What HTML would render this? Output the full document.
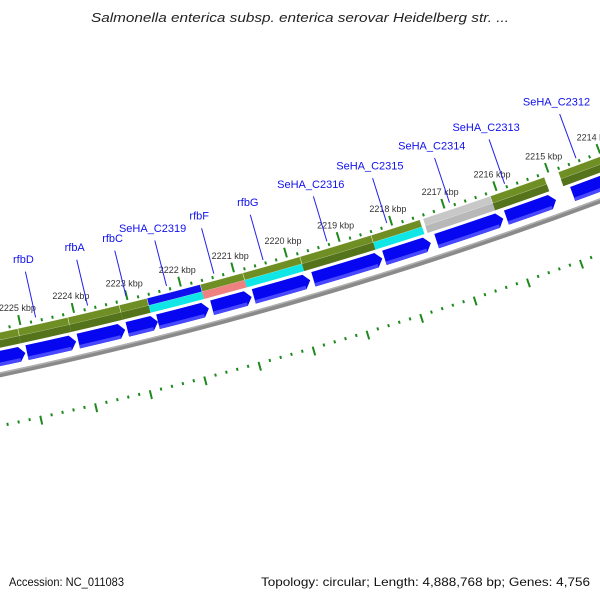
<!DOCTYPE html>
<html><head><meta charset="utf-8"><style>
html,body{margin:0;padding:0;background:#fff;width:600px;height:600px;overflow:hidden}
svg{display:block}
text{font-family:"Liberation Sans","DejaVu Sans",sans-serif}
</style></head><body>
<svg id="map" width="600" height="600" viewBox="0 0 600 600" xmlns="http://www.w3.org/2000/svg">
<rect width="600" height="600" fill="#fff"/>
<text x="300" y="22" text-anchor="middle" font-size="13" font-style="italic" fill="#222" textLength="418" lengthAdjust="spacingAndGlyphs">Salmonella enterica subsp. enterica serovar Heidelberg str. ...</text>
<g id="layer"></g>
<text x="9" y="586" font-size="12" fill="#111" textLength="115" lengthAdjust="spacingAndGlyphs">Accession: NC_011083</text>
<text x="590" y="586" text-anchor="end" font-size="12" fill="#111" textLength="329" lengthAdjust="spacingAndGlyphs">Topology: circular; Length: 4,888,768 bp; Genes: 4,756</text>
</svg>
<script>
// data (kbp)
const bandLo     = [2225.06, 2224.13, 2223.17, 2222.65, 2221.65, 2220.85, 2219.77, 2218.42, 2217.49, 2216.14, 2215.10, 2213.00];
const bandHi     = [2226.50, 2225.06, 2224.13, 2223.17, 2222.65, 2221.65, 2220.85, 2219.77, 2218.42, 2217.43, 2216.14, 2214.83];
const bandTop    = ['green','green','green','green','blue','green','green','green','green','gray','green','green'];
const bandBottom = ['green','green','green','green','cyan','salmon','cyan','green','cyan','gray','green','green'];
const geneStarts = [2225.02, 2224.08, 2223.17, 2222.56, 2221.61, 2220.81, 2219.71, 2218.35, 2217.43, 2216.05, 2215.04, 2213.00];
const geneEnds   = [2226.50, 2224.99, 2224.04, 2223.13, 2222.56, 2221.55, 2220.77, 2219.65, 2218.31, 2217.32, 2215.99, 2214.72];
const geneNames  = ['rfbD','rfbA','rfbC','SeHA_C2319','rfbF','rfbG','SeHA_C2316','SeHA_C2315','SeHA_C2314','SeHA_C2313','SeHA_C2312'];
const geneLabelPos = [2224.70, 2223.73, 2223.01, 2222.25, 2221.36, 2220.43, 2219.22, 2218.08, 2216.88, 2215.82, 2214.44];
const kbpTicks = [2226, 2225, 2224, 2223, 2222, 2221, 2220, 2219, 2218, 2217, 2216, 2215, 2214, 2213];
const kbpLabels = ['2226 kbp','2225 kbp','2224 kbp','2223 kbp','2222 kbp','2221 kbp','2220 kbp','2219 kbp','2218 kbp','2217 kbp','2216 kbp','2215 kbp','2214 kbp','2213 kbp'];

const CX=-877, CY=-3774;
const NS='http://www.w3.org/2000/svg';
const layer=document.getElementById('layer');
function ang(k){return (76.9+(k-2224)*0.751)*Math.PI/180;}
function pt(k,r){const a=ang(k);return [CX+r*Math.cos(a),CY+r*Math.sin(a)];}
function f(p){return p[0].toFixed(2)+' '+p[1].toFixed(2);}
function arcPath(k1,k2,r1,r2){
  const a=Math.min(k1,k2),b=Math.max(k1,k2);
  return 'M'+f(pt(a,r1))+' A'+r1+' '+r1+' 0 0 1 '+f(pt(b,r1))+' L'+f(pt(b,r2))+' A'+r2+' '+r2+' 0 0 0 '+f(pt(a,r2))+' Z';
}
function mk(tag,attrs){const e=document.createElementNS(NS,tag);for(const k in attrs)e.setAttribute(k,attrs[k]);layer.appendChild(e);return e;}
const topCol={green:'#6f8f24',blue:'#1010ee',gray:'#c8c8c8'};
const botCol={green:'#55731a',cyan:'#10e6e6',salmon:'#ee8080',gray:'#b8b8b8'};

// backbone
let e=mk('path',{d:arcPath(2212,2228,4238,4243),fill:'#8a8a8a'});


e=mk('path',{d:arcPath(2212,2228,4238,4239.5),fill:'#b0b0b0'});



// feature band
for(let i=0;i<bandLo.length;i++){
  const lo=bandLo[i], hi=bandHi[i];
  let p=mk('path',{d:arcPath(lo,hi,4199,4206.5),fill:topCol[bandTop[i]],stroke:'#ffffff','stroke-width':'0.4'});
  
  
  p=mk('path',{d:arcPath(lo,hi,4206.5,4214),fill:botCol[bandBottom[i]]});
  
  
}
// genes (arrows pointing to lower kbp)
const hk=0.108;
for(let i=0;i<geneStarts.length;i++){
  const lo=geneStarts[i], hi=geneEnds[i];
  const r1=4217,r2=4232,rm=4224.5;
  const d='M'+f(pt(lo,rm))+' L'+f(pt(lo+hk,r1))+' A'+r1+' '+r1+' 0 0 1 '+f(pt(hi,r1))+' L'+f(pt(hi,r2))+' A'+r2+' '+r2+' 0 0 0 '+f(pt(lo+hk,r2))+' Z';
  let g=mk('path',{d:d,fill:'#0606f0'});
  
  
  g=mk('path',{d:arcPath(lo+hk,hi,4228.5,4232),fill:'#4848ff'});
  
  
}
// tick rings
function ring(rBase,dir,name){
  for(let k=2212;k<=2228.001;k+=0.2){
    const kk=Math.round(k*10)/10;
    const major=Math.abs(kk-Math.round(kk))<0.01;
    const a=pt(kk,major?(dir>0?rBase-9:rBase-1):rBase-1), b=pt(kk,major?(dir>0?rBase+1:rBase+8):rBase+2);
    const t=mk('line',{x1:a[0],y1:a[1],x2:b[0],y2:b[1],stroke:'#1e8a1e','stroke-width':2});
    
    
  }
}
ring(4195,1,'outer-ruler');
ring(4290,-1,'inner-ruler');
// kbp labels
for(let i=0;i<kbpTicks.length;i++){
  const p=pt(kbpTicks[i],4182);
  const t=mk('text',{x:p[0].toFixed(1),y:p[1].toFixed(1),'text-anchor':'middle','font-size':'9',fill:'#333'});
  t.textContent=kbpLabels[i];
  
  
}
// gene labels
for(let i=0;i<geneNames.length;i++){
  const a=pt(geneLabelPos[i],4145), b=pt(geneLabelPos[i],4192);
  const l=mk('line',{x1:a[0],y1:a[1],x2:b[0],y2:b[1],stroke:'#2020ee','stroke-width':1});
  
  
  const p=pt(geneLabelPos[i],4136);
  const t=mk('text',{x:p[0].toFixed(1),y:p[1].toFixed(1),'text-anchor':'middle','font-size':'11',fill:'#1010ee'});
  t.textContent=geneNames[i];
  
  
}
</script>
</body></html>
